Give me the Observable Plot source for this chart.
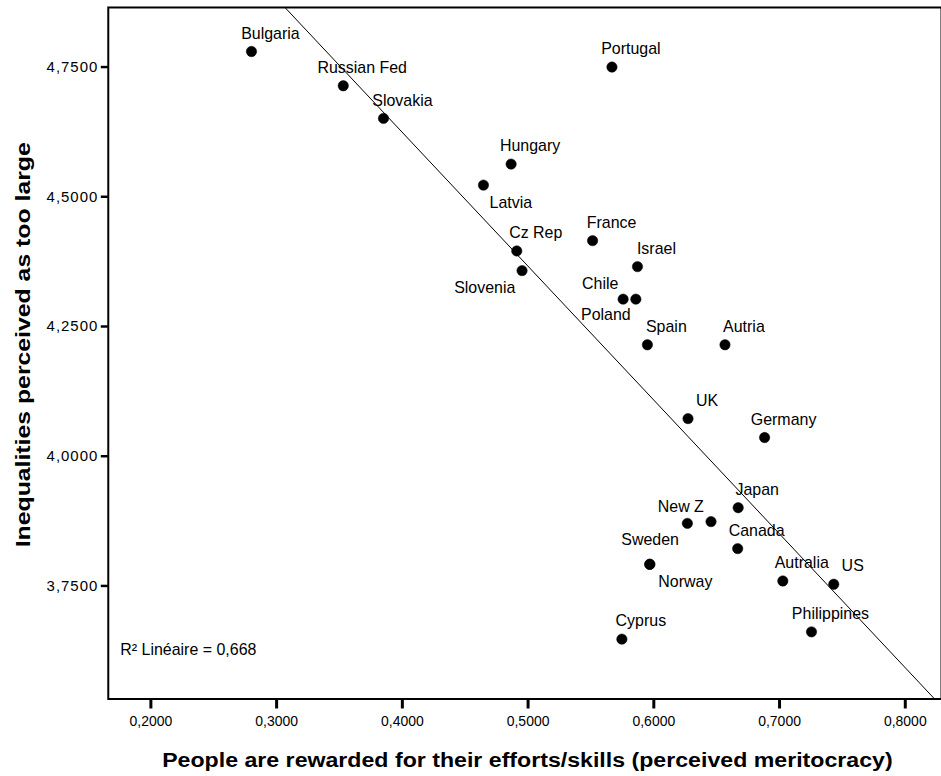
<!DOCTYPE html>
<html><head><meta charset="utf-8">
<script src="https://cdn.jsdelivr.net/npm/d3@7"></script>
<script src="https://cdn.jsdelivr.net/npm/@observablehq/plot@0.6"></script>
<style>html,body{margin:0;padding:0;overflow:hidden;background:#fff}</style>
</head><body><div id="chart"></div><script>
// ---- data ----
const countries = ["Bulgaria","Russian Fed","Slovakia","Hungary","Latvia","Cz Rep","Slovenia","France","Israel","Chile","Poland","Portugal","Spain","Autria","UK","Germany","Japan","New Z","","Canada","Sweden","Norway","Autralia","US","Philippines","Cyprus"];
const meritocracy = [0.280,0.353,0.385,0.4865,0.4645,0.491,0.4952,0.5513,0.587,0.5756,0.5857,0.5667,0.5949,0.6566,0.6272,0.6881,0.6671,0.6267,0.6455,0.6667,0.5968,0.5968,0.7026,0.7431,0.7254,0.5746];
const inequality = [4.780,4.714,4.651,4.563,4.5225,4.3956,4.3577,4.4154,4.3654,4.3027,4.3027,4.750,4.2148,4.2148,4.0725,4.036,3.9008,3.8706,3.874,3.822,3.7917,3.7917,3.7596,3.7533,3.6615,3.6475];
const xTicks = [0.2,0.3,0.4,0.5,0.6,0.7,0.8];
const yTicks = [3.75,4.0,4.25,4.5,4.75];
const xTitle = "People are rewarded for their efforts/skills (perceived meritocracy)";
const yTitle = "Inequalities perceived as too large";
const r2Label = "R² Linéaire = 0,668";

// ---- layout (label offsets in px) ----
const labelOffset = {
  default: [19, -18],
  "Latvia": [27.5, 17.7], "Slovenia": [-37.4, 17.6], "Chile": [-23, -15],
  "Poland": [-30, 15.7], "New Z": [-6.6, -16.7], "Sweden": [0.3, -24], "Norway": [35.6, 17.7]
};

const data = countries.map((c, i) => ({country: c, x: meritocracy[i], y: inequality[i]}));
const fmt = v => v.toFixed(4).replace(".", ",");

// linear regression
const mx = d3.mean(meritocracy), my = d3.mean(inequality);
const slope = d3.sum(data, d => (d.x - mx) * (d.y - my)) / d3.sum(data, d => (d.x - mx) ** 2);
const intercept = my - slope * mx;
const xDomain = [0.16611, 0.8288];
const yDomain = [3.5321, 4.8648];
const fit = xDomain.map(x => ({x, y: intercept + slope * x}));

const labelMarks = data.filter(d => d.country).map(d => {
  const [dx, dy] = labelOffset[d.country] ?? labelOffset.default;
  return Plot.text([d], {x: "x", y: "y", text: "country", dx, dy, fontSize: 16, fill: "#000"});
});

const chart = Plot.plot({
  width: 943, height: 776,
  marginLeft: 108, marginRight: 0, marginTop: 7, marginBottom: 76,
  style: {fontFamily: "'Liberation Sans', Arial, sans-serif", fontSize: "14px", color: "#000", background: "#fff"},
  x: {domain: xDomain},
  y: {domain: yDomain},
  marks: [
    Plot.axisX({ticks: xTicks, tickFormat: fmt, tickSize: 10, tickPadding: 7, strokeWidth: 3, fontSize: 14, label: null}),
    Plot.axisY({ticks: yTicks, tickFormat: fmt, tickSize: 7, tickPadding: 3, strokeWidth: 2.5, fontSize: 15, label: null}),
    Plot.frame({stroke: "#000", strokeWidth: 2}),
    Plot.line(fit, {x: "x", y: "y", stroke: "#000", strokeWidth: 1, clip: true}),
    Plot.dot(data, {x: "x", y: "y", r: 5.2, fill: "#000", stroke: "#000", strokeWidth: 0.5}),
    ...labelMarks,
    Plot.text([r2Label], {frameAnchor: "bottom-left", lineAnchor: "middle", dx: 12, dy: -49, textAnchor: "start", fontSize: 16, fill: "#000"}),
    Plot.text([xTitle], {frameAnchor: "bottom", lineAnchor: "middle", dx: 2.5, dy: 62, fontSize: 20, fontWeight: "bold", fill: "#000"}),
    Plot.text([yTitle], {frameAnchor: "left", lineAnchor: "middle", textAnchor: "start", dx: -85, dy: 194.5, rotate: -90, fontSize: 20, fontWeight: "bold", fill: "#000"})
  ]
});
document.getElementById("chart").appendChild(chart);

// fit title lengths to reference; widen y tick labels
d3.select(chart).selectAll("text").each(function() {
  if (this.textContent === xTitle) d3.select(this).attr("textLength", 732).attr("lengthAdjust", "spacingAndGlyphs");
  if (this.textContent === yTitle) d3.select(this).attr("textLength", 406).attr("lengthAdjust", "spacingAndGlyphs");
});
d3.select(chart).selectAll("g[aria-label='y-axis tick label'] text").style("letter-spacing", "1px");
</script></body></html>
